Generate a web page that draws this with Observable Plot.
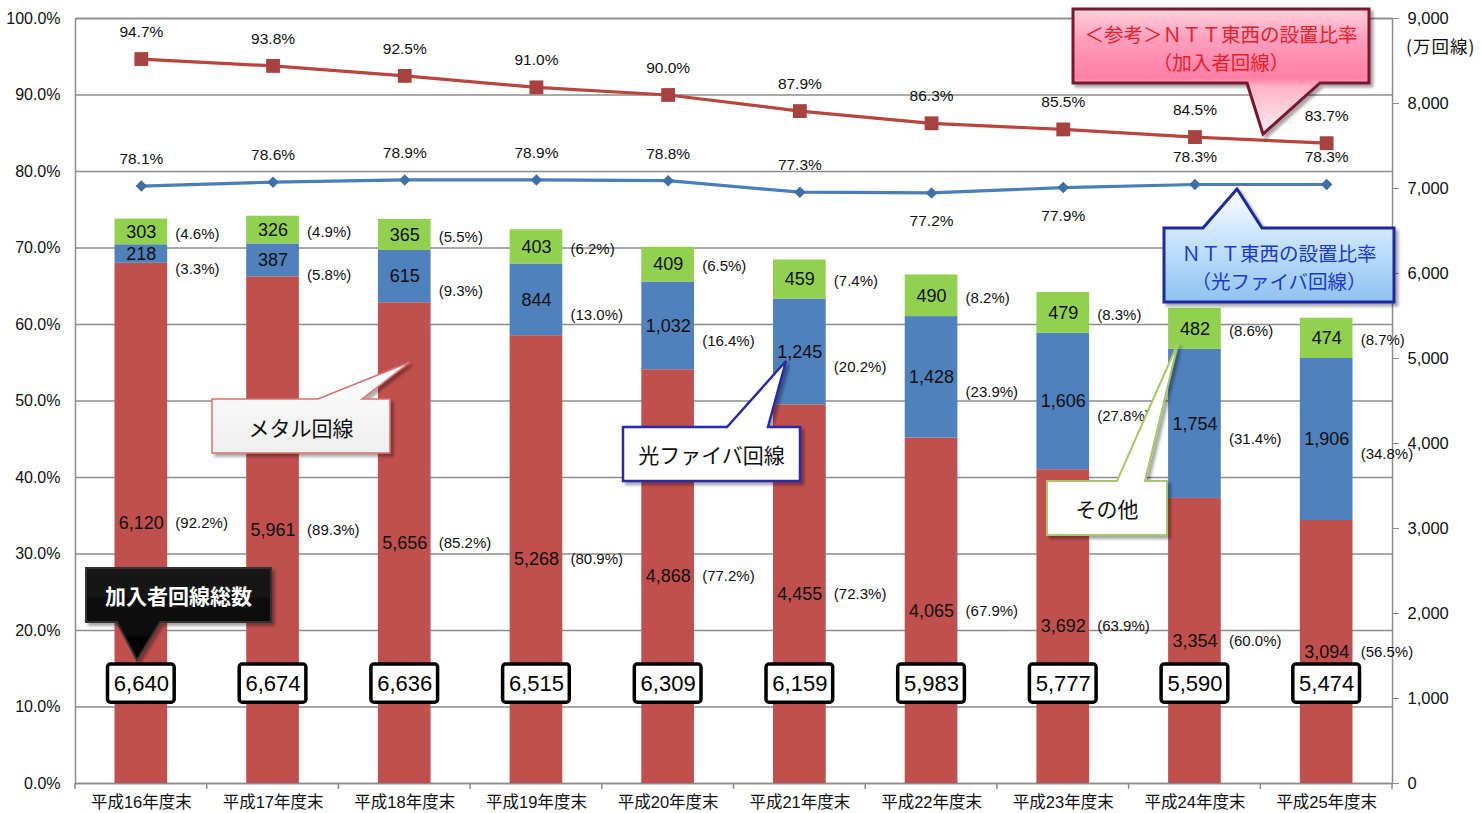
<!DOCTYPE html>
<html><head><meta charset="utf-8">
<script src="https://cdn.jsdelivr.net/npm/d3@7"></script>
<script src="https://cdn.jsdelivr.net/npm/@observablehq/plot@0.6"></script>
<style>
body{margin:0;background:#fff;}
#chart{position:relative;width:1483px;height:813px;overflow:hidden;}
</style>
</head><body><div id="chart"></div>
<script>
// ---- data ----
const years = ["平成16年度末","平成17年度末","平成18年度末","平成19年度末","平成20年度末","平成21年度末","平成22年度末","平成23年度末","平成24年度末","平成25年度末"];
const metal = [6120,5961,5656,5268,4868,4455,4065,3692,3354,3094];
const fiber = [218,387,615,844,1032,1245,1428,1606,1754,1906];
const other = [303,326,365,403,409,459,490,479,482,474];
const totals = [6640,6674,6636,6515,6309,6159,5983,5777,5590,5474];
const metalPct = ["92.2%","89.3%","85.2%","80.9%","77.2%","72.3%","67.9%","63.9%","60.0%","56.5%"];
const fiberPct = ["3.3%","5.8%","9.3%","13.0%","16.4%","20.2%","23.9%","27.8%","31.4%","34.8%"];
const otherPct = ["4.6%","4.9%","5.5%","6.2%","6.5%","7.4%","8.2%","8.3%","8.6%","8.7%"];
const shareSubscriber = [94.7,93.8,92.5,91.0,90.0,87.9,86.3,85.5,84.5,83.7];
const shareFiber = [78.1,78.6,78.9,78.9,78.8,77.3,77.2,77.9,78.3,78.3];
const leftTicks = [0,10,20,30,40,50,60,70,80,90,100];      // %
const rightTicks = [0,1000,2000,3000,4000,5000,6000,7000,8000,9000]; // 万回線
const seriesNames = ["メタル回線","光ファイバ回線","その他"];
const seriesColors = ["#C0504D","#4F81BD","#92D050"];
const fiberLabelBelow = ["平成22年度末","平成23年度末"];

// ---- derived tables ----
const PCT = 90; // 100% on the left axis == 9,000 on the right axis
const fmt = d3.format(",");
const segs = [];
years.forEach((y,i)=>{
  let base = 0;
  [[metal,metalPct],[fiber,fiberPct],[other,otherPct]].forEach(([arr,pct],k)=>{
    const v = arr[i];
    segs.push({year:y, series:seriesNames[k], value:v, pct:pct[i], y1:base, y2:base+v, mid:base+v/2});
    base += v;
  });
});
const totalRows = years.map((y,i)=>({year:y, total:totals[i]}));
const subRows = years.map((y,i)=>({year:y, v:shareSubscriber[i]}));
const fibRows = years.map((y,i)=>({year:y, v:shareFiber[i]}));

const font = "'Liberation Sans', Arial, 'Noto Sans CJK JP', sans-serif";
const W = 1483, H = 813, ML = 75, MR = 91, MT = 18, MB = 30;

const plot = Plot.plot({
  width:W, height:H,
  marginLeft:ML, marginRight:MR, marginTop:MT, marginBottom:MB,
  style:{fontFamily:font, fontSize:"15px", color:"#111", background:"#fff"},
  x:{type:"band", domain:years, paddingInner:0.6, paddingOuter:0.3, round:false, label:null},
  y:{domain:[0,9000], label:null},
  color:{domain:seriesNames, range:seriesColors},
  marks:[
    Plot.gridY(leftTicks.map(d=>d*PCT), {stroke:"#8c8c8c", strokeOpacity:1, strokeWidth:1.5}),
    Plot.frame({stroke:"#8c8c8c", strokeWidth:1.5}),
    Plot.axisY(leftTicks.map(d=>d*PCT), {anchor:"left", tickSize:0, tickPadding:15, fontSize:16, fill:"#111", tickFormat:d=>(d/PCT).toFixed(1)+"%", label:null}),
    Plot.axisY(rightTicks, {anchor:"right", tickSize:6, tickPadding:9, fontSize:16.5, stroke:"#8c8c8c", fill:"#111", tickFormat:d=>fmt(d), label:null}),
    Plot.axisX({tickSize:0, tickPadding:13, fontSize:16.5, fill:"#111", label:null}),
    Plot.barY(segs, {x:"year", y1:"y1", y2:"y2", fill:"series"}),
    // in-bar values
    Plot.text(segs, {x:"year", y:"mid", text:d=>fmt(d.value), fontSize:18, fill:"#111"}),
    // percent labels
    Plot.text(segs.filter(d=>d.series==="メタル回線"), {x:"year", y:"mid", text:d=>"("+d.pct+")", dx:34, textAnchor:"start", fontSize:15, fill:"#111"}),
    Plot.text(segs.filter(d=>d.series==="光ファイバ回線"), {x:"year", y:"mid", text:d=>"("+d.pct+")", dx:34, dy:15, textAnchor:"start", fontSize:15, fill:"#111"}),
    Plot.text(segs.filter(d=>d.series==="その他"), {x:"year", y:"mid", text:d=>"("+d.pct+")", dx:34, dy:2, textAnchor:"start", fontSize:15, fill:"#111"}),
    // lines
    Plot.line(subRows, {x:"year", y:d=>d.v*PCT, stroke:"#B8463F", strokeWidth:3.2}),
    Plot.dot(subRows, {x:"year", y:d=>d.v*PCT, symbol:"square", r:7.8, fill:"#A8423F", stroke:"none"}),
    Plot.text(subRows, {x:"year", y:d=>d.v*PCT, text:d=>d.v.toFixed(1)+"%", dy:-27, fontSize:15.5, fill:"#111"}),
    Plot.line(fibRows, {x:"year", y:d=>d.v*PCT, stroke:"#4A7EBB", strokeWidth:3.2}),
    Plot.dot(fibRows, {x:"year", y:d=>d.v*PCT, symbol:"diamond2", r:5.2, fill:"#3F6FA8", stroke:"none"}),
    Plot.text(fibRows.filter(d=>!fiberLabelBelow.includes(d.year)), {x:"year", y:d=>d.v*PCT, text:d=>d.v.toFixed(1)+"%", dy:-27, fontSize:15.5, fill:"#111"}),
    Plot.text(fibRows.filter(d=>fiberLabelBelow.includes(d.year)), {x:"year", y:d=>d.v*PCT, text:d=>d.v.toFixed(1)+"%", dy:28, fontSize:15.5, fill:"#111"})
  ]
});
document.getElementById("chart").appendChild(plot);

// ---- post-render: category boundary ticks, unit label, callouts ----
const svg = d3.select(plot);
const sy = plot.scale("y");
const x0 = ML, x1 = W - MR;
const step = (x1 - x0) / years.length;
const yBase = sy.apply(0);
for (let i = 0; i <= years.length; i++) {
  svg.append("line").attr("x1", x0 + i*step).attr("x2", x0 + i*step)
    .attr("y1", yBase).attr("y2", yBase + 6).attr("stroke", "#8c8c8c").attr("stroke-width", 1.5);
}
svg.append("text").attr("x", x1 + 14).attr("y", sy.apply(9000) + 27)
  .attr("text-anchor","start").attr("dominant-baseline","central").attr("letter-spacing", 1)
  .attr("font-size", 17.5).attr("font-family", "'Noto Sans CJK JP', sans-serif").attr("fill", "#111").text("(万回線)");

const defs = svg.append("defs");
function grad(id, stops, ya, yb){
  const g = defs.append("linearGradient").attr("id", id).attr("gradientUnits","userSpaceOnUse")
    .attr("x1",0).attr("x2",0).attr("y1",ya).attr("y2",yb);
  stops.forEach(([o,c])=>g.append("stop").attr("offset",o).attr("stop-color",c));
}
grad("gPink", [[0,"#ffd3df"],[0.25,"#ff9dbc"],[0.55,"#ff7ea5"],[0.62,"#ffb3c9"],[1,"#fff0f5"]], 8, 135);
grad("gBlue", [[0,"#ffffff"],[0.3,"#d9ecff"],[1,"#8cc2f0"]], 188, 303);
grad("gWhite", [[0,"#ffffff"],[1,"#eeeeee"]], 360, 460);
grad("gBlack", [[0,"#1a1a1a"],[1,"#000000"]], 567, 660);
const flt = defs.append("filter").attr("id","shadow").attr("x","-10%").attr("y","-10%").attr("width","130%").attr("height","140%");
flt.append("feDropShadow").attr("dx",3).attr("dy",3).attr("stdDeviation",1.5).attr("flood-color","#000").attr("flood-opacity",0.35);

function callout(o){
  const {x1,y1,x2,y2,side,a,b,tx,ty} = o;
  let p;
  if (side === "top") p = `M${x1},${y1}L${a},${y1}L${tx},${ty}L${b},${y1}L${x2},${y1}L${x2},${y2}L${x1},${y2}Z`;
  else p = `M${x1},${y1}L${x2},${y1}L${x2},${y2}L${b},${y2}L${tx},${ty}L${a},${y2}L${x1},${y2}Z`;
  svg.append("path").attr("d", p).attr("fill", o.fill).attr("stroke", o.stroke)
    .attr("stroke-width", o.sw).attr("stroke-linejoin","miter").attr("filter","url(#shadow)");
  o.lines.forEach((t,i)=>{
    svg.append("text").attr("x", (x1+x2)/2).attr("y", o.ly[i]).attr("text-anchor","middle")
      .attr("dominant-baseline","central").attr("font-size", o.fs).attr("font-weight", o.fw||"normal")
      .attr("font-family", "'Noto Sans CJK JP', sans-serif").attr("fill", o.color).text(t);
  });
}
callout({x1:1073,y1:9,x2:1369,y2:83,side:"bottom",a:1247,b:1320,tx:1263,ty:134,
  fill:"url(#gPink)",stroke:"#7a1530",sw:3,color:"#e8202a",fs:19.5,
  lines:["＜参考＞ＮＴＴ東西の設置比率","（加入者回線）"],ly:[33,61]});
callout({x1:1164,y1:228,x2:1394,y2:302,side:"top",a:1203,b:1262,tx:1237,ty:189,
  fill:"url(#gBlue)",stroke:"#1e2b9e",sw:3,color:"#1c38d0",fs:19.5,
  lines:["ＮＴＴ東西の設置比率","（光ファイバ回線）"],ly:[252,280]});
callout({x1:212,y1:399,x2:390,y2:453,side:"top",a:318,b:362,tx:410,ty:362,
  fill:"url(#gWhite)",stroke:"#d97070",sw:1.5,color:"#111",fs:21,
  lines:["メタル回線"],ly:[427]});
callout({x1:623,y1:427,x2:800,y2:481,side:"top",a:727,b:768,tx:786,ty:361,
  fill:"#ffffff",stroke:"#2a2aa8",sw:2.5,color:"#111",fs:21,
  lines:["光ファイバ回線"],ly:[454]});
callout({x1:1047,y1:481,x2:1167,y2:535,side:"top",a:1117,b:1145,tx:1178,ty:343,
  fill:"#ffffff",stroke:"#a7c86a",sw:2,color:"#111",fs:21,
  lines:["その他"],ly:[508]});
callout({x1:86,y1:568,x2:271,y2:622,side:"bottom",a:117,b:160,tx:137,ty:660,
  fill:"url(#gBlack)",stroke:"#333",sw:2,color:"#fff",fs:21,fw:"bold",
  lines:["加入者回線総数"],ly:[595]});

// total boxes on top (drawn by Plot so they use its scales)
const boxes = Plot.plot({
  width:W, height:H,
  marginLeft:ML, marginRight:MR, marginTop:MT, marginBottom:MB,
  style:{fontFamily:font, background:"transparent"},
  x:{type:"band", domain:years, paddingInner:0.6, paddingOuter:0.3, round:false, axis:null},
  y:{domain:[0,9000], axis:null},
  marks:[
    Plot.barY(totalRows, {x:"year", y1:950, y2:1400, insetLeft:-7, insetRight:-7, fill:"#fff", stroke:"#000", strokeWidth:3.5, rx:3}),
    Plot.text(totalRows, {x:"year", y:1175, text:d=>fmt(d.total), fontSize:22, fill:"#000"})
  ]
});
boxes.style.position = "absolute"; boxes.style.left = "0px"; boxes.style.top = "0px";
document.getElementById("chart").appendChild(boxes);
</script>
</body></html>
